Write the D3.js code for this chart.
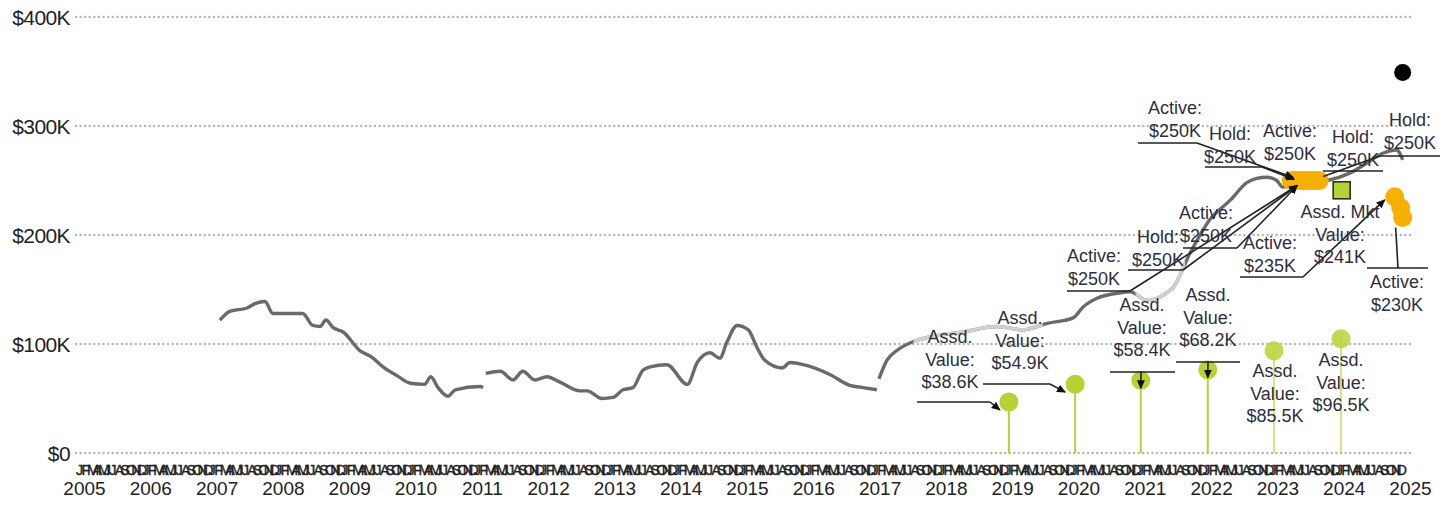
<!DOCTYPE html>
<html><head><meta charset="utf-8">
<script src="https://cdn.jsdelivr.net/npm/d3@7"></script>
<style>body{margin:0;background:#fff} svg{display:block}</style>
</head><body>
<svg id="c" width="1451" height="510"></svg>
<script>
// ---------- data ----------
const yearTicks = d3.range(2005, 2026);
const monthLetters = ["J","F","M","A","M","J","J","A","S","O","N","D"];
const yTicks = [0, 100, 200, 300, 400]; // $K

// price history line (decimal year, $K); null = gap
const priceYears = [2007.14,2007.29,2007.55,2007.67,2007.82,2007.94,2008.39,2008.54,2008.65,2008.74,2008.85,2009.00,2009.25,2009.43,2009.60,2009.81,2010.01,2010.23,2010.32,2010.43,2010.58,2010.69,2011.06,2011.11,2011.13,2011.15,2011.37,2011.56,2011.71,2011.89,2012.07,2012.27,2012.57,2012.68,2012.90,2013.07,2013.22,2013.37,2013.52,2013.63,2013.88,2014.19,2014.34,2014.53,2014.68,2014.79,2014.94,2015.11,2015.24,2015.36,2015.62,2015.74,2015.94,2016.34,2016.64,2016.84,2017.05,2017.065,2017.08,2017.20,2017.35,2017.59,2017.81,2018.35,2018.86,2019.25,2019.62,2020.01,2020.16,2020.37,2020.72,2020.87,2021.12,2021.42,2021.52,2021.77,2022.07,2022.38,2022.63,2022.78,2022.93,2023.08,2023.17,2023.50,2023.84,2024.19,2024.44,2024.68,2024.89,2024.98];
const priceValues = [122,130,133,137,139,128,128,117,116,122,115,111,94,88,79,71,64,63,70,60,52,58,61,60,null,73,75,67,75,67,70,65,57,57,50,51,58,60,76,79,81,63,83,92,87,102,117,113,97,85,78,83,81,72,62,60,58,null,68,85,94,102,106,111,116,113,119,124,134,142,147,148,140,147,152,183,214,232,248,252,253,250,244,248,250,257,266,275,278,269];
const lightSpans = [[2017.6, 2019.55], [2020.95, 2021.7]];

// assessed values (lollipops)
const assessedYears = [2019.04, 2020.04, 2021.03, 2022.04, 2023.04, 2024.05];
const assessedValues = [38.6, 54.9, 58.4, 68.2, 85.5, 96.5];

// listings (active / hold) — orange
const listingYears = [2023.30, 2023.36, 2023.42, 2023.48, 2023.54, 2023.60, 2023.66, 2023.72, 2024.86, 2024.95, 2024.98];
const listingValues = [250, 250, 250, 250, 250, 250, 250, 250, 235, 225, 216];

// assessed market value (square) and sale (black dot)
const mktYears = [2024.06];
const mktValues = [241];
const saleYears = [2024.98];
const saleValues = [349];

// ---------- layout ----------
const svg = d3.select("#c");
const x = d3.scaleLinear().domain([2005, 2025]).range([78, 1404]);
const y = d3.scaleLinear().domain([0, 400]).range([453, 17]);
const green = "#b5d334", orange = "#f6b000";

const defs = svg.append("defs");
defs.append("marker").attr("id","arr").attr("viewBox","0 -5 10 10")
  .attr("refX",9).attr("refY",0).attr("markerWidth",9).attr("markerHeight",9)
  .attr("markerUnits","userSpaceOnUse").attr("orient","auto")
  .append("path").attr("d","M0,-4.5L10,0L0,4.5Z").attr("fill","#111");

// gridlines
svg.append("g").selectAll("line").data(yTicks).join("line")
  .attr("x1", 76).attr("x2", 1410)
  .attr("y1", d => y(d)).attr("y2", d => y(d))
  .attr("stroke", "#b8b8b8").attr("stroke-width", 2.6)
  .attr("stroke-linecap","round").attr("stroke-dasharray","0,4.6");

// y axis labels
const yAxis = d3.axisLeft(y).tickValues(yTicks).tickSize(0).tickPadding(0)
  .tickFormat(d => d === 0 ? "$0" : "$" + d + "K");
const gy = svg.append("g").attr("transform","translate(70,0)").call(yAxis);
gy.select(".domain").remove();
gy.selectAll("text").attr("font-family","'Liberation Sans', Arial, sans-serif")
  .attr("font-size", 21).attr("fill","#222").attr("dy","0.36em").attr("letter-spacing","-0.6");

// x axis: years
const xAxis = d3.axisBottom(x).tickValues(yearTicks).tickSize(0).tickPadding(0).tickFormat(d3.format("d"));
const gx = svg.append("g").attr("transform","translate(6,488)").call(xAxis);
gx.select(".domain").remove();
gx.selectAll("text").attr("font-family","'Liberation Sans', Arial, sans-serif")
  .attr("font-size", 19).attr("fill","#222").attr("dy","0.35em");

// month letters
const months = [];
yearTicks.slice(0, -1).forEach(yr => monthLetters.forEach((m, i) => months.push({yr, i, m})));
svg.append("g").selectAll("text").data(months).join("text")
  .attr("x", d => x(d.yr + d.i / 12) - 2).attr("y", 475)
  .attr("font-family","'Liberation Sans', Arial, sans-serif").attr("font-size", 14.5)
  .attr("fill","#222").attr("stroke","#222").attr("stroke-width",0.35).text(d => d.m);

// price line
const pts = priceYears.map((t, i) => [t, priceValues[i]]);
const line = d3.line().defined(d => d[1] !== null).x(d => x(d[0])).y(d => y(d[1])).curve(d3.curveMonotoneX);
svg.append("path").attr("d", line(pts)).attr("fill","none")
  .attr("stroke","#6a6a6a").attr("stroke-width",3.4).attr("stroke-linejoin","round");
lightSpans.forEach((s, k) => {
  defs.append("clipPath").attr("id","lc"+k).append("rect")
    .attr("x", x(s[0])).attr("width", x(s[1]) - x(s[0])).attr("y", 0).attr("height", 510);
  svg.append("path").attr("d", line(pts)).attr("fill","none").attr("clip-path","url(#lc"+k+")")
    .attr("stroke","#d0d0d0").attr("stroke-width",3.6).attr("stroke-linejoin","round");
});

// lollipops
const ass = assessedYears.map((t, i) => ({t, v: assessedValues[i], i}));
svg.append("g").selectAll("line").data(ass).join("line")
  .attr("x1", d => x(d.t)).attr("x2", d => x(d.t))
  .attr("y1", y(0)).attr("y2", d => y(d.v) - 9)
  .attr("stroke", green).attr("stroke-width", 2).attr("opacity", d => d.i >= 4 ? 0.6 : 1);
svg.append("g").selectAll("circle").data(ass).join("circle")
  .attr("cx", d => x(d.t)).attr("cy", d => y(d.v) - 9).attr("r", 9.5)
  .attr("fill", green).attr("opacity", d => d.i >= 4 ? 0.85 : 1);

// listings
const lst = listingYears.map((t, i) => ({t, v: listingValues[i]}));
svg.append("g").selectAll("circle").data(lst).join("circle")
  .attr("cx", d => x(d.t)).attr("cy", d => y(d.v)).attr("r", 9.5).attr("fill", orange);

// market value square
svg.append("g").selectAll("rect").data(mktYears.map((t, i) => ({t, v: mktValues[i]}))).join("rect")
  .attr("x", d => x(d.t) - 8.5).attr("y", d => y(d.v) - 8.5).attr("width", 17).attr("height", 17)
  .attr("fill", green).attr("stroke","#222").attr("stroke-width",1.5);

// sale
svg.append("g").selectAll("circle").data(saleYears.map((t, i) => ({t, v: saleValues[i]}))).join("circle")
  .attr("cx", d => x(d.t)).attr("cy", d => y(d.v)).attr("r", 8.5).attr("fill","#000");

// ---------- annotations ----------
const P = (arrT, arrV, i, dx, dy) => [x(arrT[i]) + dx, y(arrV[i]) + dy];
const A = (i, dx, dy) => P(assessedYears, assessedValues, i, dx, dy);
const L = (i, dx, dy) => P(listingYears, listingValues, i, dx, dy);
const annotations = [
  {t:["Assd.","Value:","$38.6K"], cx:950, cy:337, ul:[917,990,402], from:[990,402], to:A(0,-9,-1), arrow:true},
  {t:["Assd.","Value:","$54.9K"], cx:1020, cy:318, ul:[983,1050,384], from:[1050,384], to:A(1,-10,-1), arrow:true},
  {t:["Assd.","Value:","$58.4K"], cx:1142, cy:305, ul:[1110,1175,372], from:[1141,372], to:A(2,0,-1), arrow:true},
  {t:["Assd.","Value:","$68.2K"], cx:1208, cy:295, ul:[1176,1240,362], from:[1208,362], to:A(3,0,-1), arrow:true},
  {t:["Assd.","Value:","$85.5K"], cx:1275, cy:371},
  {t:["Assd.","Value:","$96.5K"], cx:1341, cy:360},
  {t:["Assd. Mkt","Value:","$241K"], cx:1340, cy:212},
  {t:["Active:","$235K"], cx:1270, cy:243, ul:[1240,1303,277], from:[1303,277], to:L(8,-10,3), arrow:true},
  {t:["Active:","$230K"], cx:1397, cy:282, ul:[1367,1428,268], from:[1398,268], to:L(10,-7,10), arrow:false},
  {t:["Hold:","$250K"], cx:1410, cy:120, ul:[1380,1440,156], from:[1380,156], to:L(7,4,-4), arrow:false},
  {t:["Hold:","$250K"], cx:1353, cy:137, ul:[1323,1383,171]},
  {t:["Active:","$250K"], cx:1175, cy:108, ul:[1138,1197,143], from:[1197,143], to:L(0,2,-3), arrow:true},
  {t:["Hold:","$250K"], cx:1230, cy:134, ul:[1205,1262,167], from:[1262,167], to:L(0,3,-1), arrow:true},
  {t:["Active:","$250K"], cx:1290, cy:131},
  {t:["Active:","$250K"], cx:1206, cy:213, ul:[1183,1237,248], from:[1237,248], to:L(0,6,5), arrow:true},
  {t:["Hold:","$250K"], cx:1158, cy:237, ul:[1128,1183,270], from:[1183,270], to:L(0,6,5), arrow:true},
  {t:["Active:","$250K"], cx:1094, cy:256, ul:[1067,1130,291], from:[1130,291], to:L(0,6,5), arrow:true}
];
const ga = svg.append("g");
annotations.forEach(a => {
  if (a.ul) ga.append("line").attr("x1", a.ul[0]).attr("x2", a.ul[1]).attr("y1", a.ul[2]).attr("y2", a.ul[2])
    .attr("stroke","#222").attr("stroke-width",1.6);
  if (a.from) {
    const l = ga.append("line").attr("x1", a.from[0]).attr("y1", a.from[1])
      .attr("x2", a.to[0]).attr("y2", a.to[1]).attr("stroke","#222").attr("stroke-width",1.6);
    if (a.arrow) l.attr("marker-end","url(#arr)");
  }
});
const gt = svg.append("g");
annotations.forEach(a => {
  a.t.forEach((s, k) => {
    gt.append("text").attr("x", a.cx).attr("y", a.cy + k * 22.5)
      .attr("text-anchor","middle").attr("dominant-baseline","central")
      .attr("font-family","'Liberation Sans', Arial, sans-serif").attr("font-size",18)
      .attr("fill","#2e2e3e").text(s);
  });
});
</script>
</body></html>
